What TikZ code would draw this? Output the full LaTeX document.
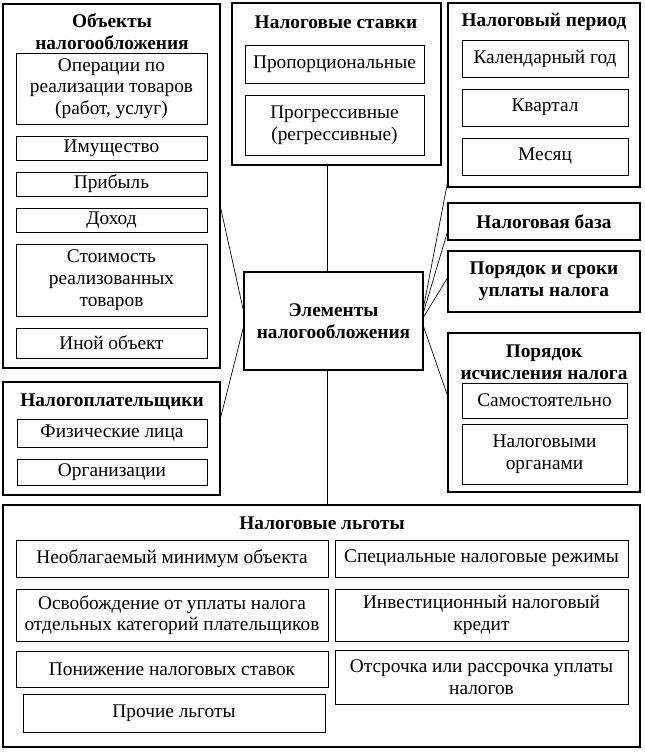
\documentclass[tikz,border=0pt]{standalone}
\usepackage{fontspec}
\setmainfont{Liberation Serif}
\newcommand{\txtsz}{\fontsize{14.5}{16.3}\selectfont}
\tikzset{
  sz/.style 2 args={minimum width=#1*0.75pt, minimum height=#2*0.75pt},
  outerbox/.style={draw, line width=2.2pt, inner sep=0pt},
  innerbox/.style={draw, line width=0.6pt, inner sep=0pt, align=center, font=\txtsz},
  ttl/.style={font=\txtsz\bfseries, align=center, inner sep=0pt},
  ctrbox/.style={draw, line width=2.2pt, inner sep=0pt, align=center, font=\txtsz\bfseries},
  link/.style={line width=0.5pt}
}
\begin{document}
\begin{tikzpicture}[x=0.75pt,y=-0.75pt]
\useasboundingbox (0,0) rectangle (644,752);
% objects
\node[outerbox, sz={217}{364}] (obj) at (111.5,186) {};
\node[ttl] (objt) at (112,32) {Объекты\\налогообложения};
\node[innerbox, sz={191}{71}] (ops) at (111.5,88.5) {Операции по\\реализации товаров\\(работ, услуг)};
\node[innerbox, sz={191}{24}] (imu) at (111.5,148) {Имущество};
\node[innerbox, sz={191}{24}] (prib) at (111.5,184) {Прибыль};
\node[innerbox, sz={191}{24}] (doh) at (111.5,220) {Доход};
\node[innerbox, sz={191}{72}] (stm) at (111.5,280) {Стоимость\\реализованных\\товаров};
\node[innerbox, sz={191}{30}] (inoy) at (111.5,343) {Иной объект};

% rates
\node[outerbox, sz={209}{162}] (rates) at (336.5,84) {};
\node[ttl] (ratest) at (336,22) {Налоговые ставки};
\node[innerbox, sz={179}{38}] (prop) at (334.5,64) {Пропорциональные};
\node[innerbox, sz={179}{60}] (progr) at (334.5,125) {Прогрессивные\\(регрессивные)};

% period
\node[outerbox, sz={192}{184}] (period) at (544,95) {};
\node[ttl] (periodt) at (544,22) {Налоговый период};
\node[innerbox, sz={166}{37}] (kal) at (545,58.5) {Календарный год};
\node[innerbox, sz={166}{37}] (kv) at (545,107.5) {Квартал};
\node[innerbox, sz={166}{37}] (mes) at (545,156.5) {Месяц};

\node[ctrbox, sz={192}{37}] (base) at (544,221.5) {Налоговая база};
\node[ctrbox, sz={192}{61}] (order) at (544,281.5) {Порядок и сроки\\уплаты налога};

% calculation
\node[outerbox, sz={192}{159}] (calc) at (544,412.5) {};
\node[ttl] (calct) at (544,362) {Порядок\\исчисления налога};
\node[innerbox, sz={165}{35}] (sam) at (544.5,400.5) {Самостоятельно};
\node[innerbox, sz={165}{60}] (orgn) at (544.5,454) {Налоговыми\\органами};

% payers
\node[outerbox, sz={217}{113}] (payers) at (111.5,438.5) {};
\node[ttl] (payerst) at (112,402) {Налогоплательщики};
\node[innerbox, sz={190}{28}] (fiz) at (112,433) {Физические лица};
\node[innerbox, sz={190}{26}] (orgs) at (112,472) {Организации};

% centre
\node[ctrbox, sz={179}{98}] (ctr) at (333.5,321) {Элементы\\налогообложения};

% benefits
\node[outerbox, sz={637}{242}] (ben) at (321.5,626) {};
\node[ttl] (bent) at (322,523) {Налоговые льготы};
\node[innerbox, sz={312}{37}] (neob) at (172,558.5) {Необлагаемый минимум объекта};
\node[innerbox, sz={312}{52}] (osv) at (172,615) {Освобождение от уплаты налога\\отдельных категорий плательщиков};
\node[innerbox, sz={312}{36}] (pon) at (172,669) {Понижение налоговых ставок};
\node[innerbox, sz={302}{38}] (proch) at (174,713) {Прочие льготы};
\node[innerbox, sz={293}{37}] (spec) at (481.5,558.5) {Специальные налоговые режимы};
\node[innerbox, sz={293}{52}] (inv) at (481.5,615) {Инвестиционный налоговый\\кредит};
\node[innerbox, sz={293}{54}] (otsr) at (481.5,677) {Отсрочка или рассрочка уплаты\\налогов};

% connector anchor points
\coordinate (ctop) at (327,272);
\coordinate (cbot) at (327,370);
\coordinate (cl1) at (244,313);
\coordinate (cl2) at (244,325);
\coordinate (cr1) at (423,310);
\coordinate (cr2) at (423,314);
\coordinate (cr3) at (423,318);
\coordinate (cr4) at (423,325);
\coordinate (objp) at (220,205);
\coordinate (payp) at (220,420);
\coordinate (perp) at (448,180);
\coordinate (basep) at (448,230);
\coordinate (ordp) at (448,277);
\coordinate (calcp) at (448,397);

\draw[link] (ctop) -- (ctop |- rates.south);
\draw[link] (cbot) -- (cbot |- ben.north);
\draw[link] (cl1) -- (objp);
\draw[link] (cl2) -- (payp);
\draw[link] (cr1) -- (perp);
\draw[link] (cr2) -- (basep);
\draw[link] (cr3) -- (ordp);
\draw[link] (cr4) -- (calcp);
\end{tikzpicture}
\end{document}
